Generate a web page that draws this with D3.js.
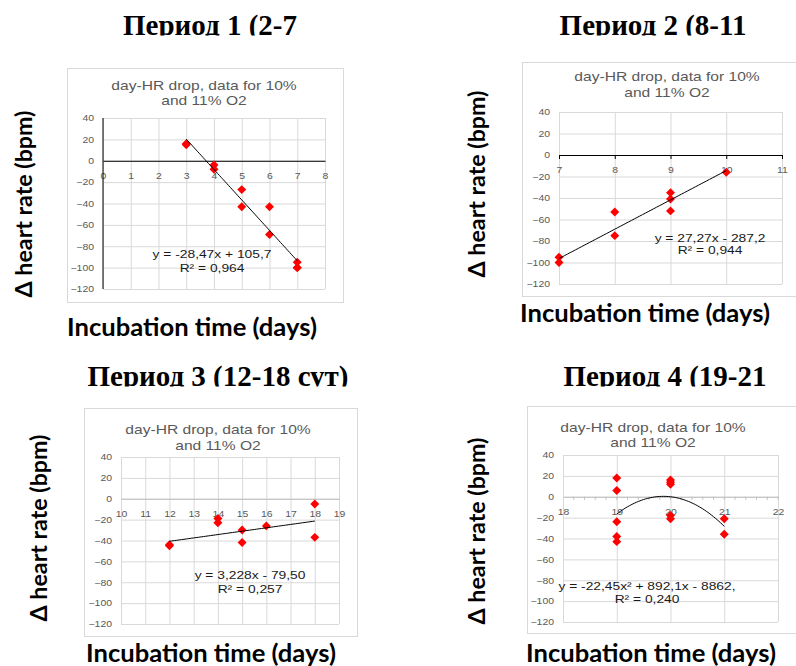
<!DOCTYPE html>
<html>
<head>
<meta charset="utf-8">
<script src="https://cdn.jsdelivr.net/npm/d3@7/dist/d3.min.js"></script>
<style>
  body { margin: 0; background: #fff; }
  svg { display: block; }
</style>
</head>
<body>
<svg id="chart" width="796" height="666"></svg>
<script>
// values
const p1Days = [3, 3, 4, 4, 5, 5, 6, 6, 7, 7, 7];
const p1Drop = [15, 16, -4, -8, -27, -43, -43, -69, -95, -100, -100];
const p1Coef = [105.7, -28.47];          // trendline: c0 + c1*x
const p1Eq = ["y = -28,47x + 105,7", "R² = 0,964"];

const p2Days = [7, 7, 8, 8, 9, 9, 9, 10];
const p2Drop = [-95, -100, -53, -75, -35, -41, -52, -16];
const p2Coef = [-287.2, 27.27];
const p2Eq = ["y = 27,27x - 287,2", "R² = 0,944"];

const p3Days = [12, 12, 14, 14, 15, 15, 16, 18, 18];
const p3Drop = [-44, -45, -19, -23, -30, -42, -26, -5, -37];
const p3Coef = [-79.5, 3.228];
const p3Eq = ["y = 3,228x - 79,50", "R² = 0,257"];

const p4Days = [19, 19, 19, 19, 19, 20, 20, 20, 20, 20, 21, 21];
const p4Drop = [18, 6, -24, -38, -43, 16, 14, 12, -18, -21, -21, -36];
const p4Coef = [-8862, 892.1, -22.45];   // polynomial, order 2
const p4Eq = ["y = -22,45x² + 892,1x - 8862,", "R² = 0,240"];

const yTicks = [-120, -100, -80, -60, -40, -20, 0, 20, 40];
const chartHead = ["day-HR drop, data for 10%", "and 11% O2"];
const yTitle = "Δ heart rate (bpm)";
const xTitle = "Incubation time (days)";

// layout of the four pasted excel charts
const panels = [
  { title: "Период 1 (2-7", titleX: 210, titleY: 35, box: [67, 68, 343, 302], plot: [103, 118, 325, 289],
    xDom: [0, 8], headX: 204, headY: [90, 105], yLab: [23, 204], xLab: [192, 336], eqX: 212, eqY: [258, 272],
    zero: "#000", yLine: true, major: false, minor: false, days: p1Days, drop: p1Drop, coef: p1Coef, eq: p1Eq },
  { title: "Период 2 (8-11", titleX: 653, titleY: 35, box: [522, 62, 800, 296], plot: [559, 112, 782, 284],
    xDom: [7, 11], headX: 667, headY: [81, 97], yLab: [476, 184], xLab: [645, 322], eqX: 710, eqY: [242, 254],
    zero: "#000", yLine: false, major: true, minor: false, days: p2Days, drop: p2Drop, coef: p2Coef, eq: p2Eq },
  { title: "Период 3 (12-18 сут)", titleX: 218, titleY: 386, box: [84, 408, 357, 636], plot: [121, 457, 339, 624],
    xDom: [10, 19], headX: 218, headY: [434, 450], yLab: [38, 528], xLab: [211, 662], eqX: 250, eqY: [579, 593],
    zero: "#bfbfbf", yLine: false, major: false, minor: false, days: p3Days, drop: p3Drop, coef: p3Coef, eq: p3Eq },
  { title: "Период 4 (19-21", titleX: 665, titleY: 386, box: [527, 406, 800, 633], plot: [563, 455, 778, 622],
    xDom: [18, 22], headX: 653, headY: [432, 447], yLab: [476, 531], xLab: [651, 662], eqX: 647, eqY: [590, 603],
    zero: "#bfbfbf", yLine: false, major: false, minor: true, days: p4Days, drop: p4Drop, coef: p4Coef, eq: p4Eq }
];

const svg = d3.select("#chart");
const sx = 1.2; // the excel pictures were pasted stretched sideways
const sans = "'Liberation Sans', Arial, sans-serif";
const bold = "Lato, 'Open Sans', sans-serif";
const intFmt = d3.format("d");

// shrink/grow a text so it is as long as the original
function fit(sel, len) {
  const fs = +sel.attr("font-size");
  const w = sel.node().getComputedTextLength();
  sel.attr("font-size", fs * len / w);
}

panels.forEach((p, i) => {
  const [bx0, by0, bx1, by1] = p.box;
  const [px0, py0, px1, py1] = p.plot;

  // big slide title, cut off at the bottom like in the source
  const clip = svg.append("clipPath").attr("id", "clip" + i);
  clip.append("rect").attr("x", p.titleX - 250).attr("y", p.titleY - 45)
    .attr("width", 500).attr("height", 45.5);
  svg.append("text")
    .attr("clip-path", `url(#clip${i})`)
    .attr("x", p.titleX).attr("y", p.titleY)
    .attr("text-anchor", "middle")
    .attr("font-family", "'Liberation Serif', 'Times New Roman', serif")
    .attr("font-weight", "bold")
    .attr("font-size", 29)
    .text(p.title);

  // chart area
  svg.append("rect")
    .attr("x", bx0 + 0.5).attr("y", by0 + 0.5)
    .attr("width", bx1 - bx0).attr("height", by1 - by0)
    .attr("fill", "#fff").attr("stroke", "#d9d9d9");

  const x = d3.scaleLinear().domain(p.xDom).range([px0, px1]);
  const y = d3.scaleLinear().domain([-120, 40]).range([py1, py0]);
  const xTicks = d3.range(p.xDom[0], p.xDom[1] + 1, 1);

  const g = svg.append("g");

  // vertical grid
  g.append("g")
    .attr("transform", `translate(0,${py0})`)
    .call(d3.axisBottom(x).tickValues(xTicks).tickSize(py1 - py0).tickFormat(""))
    .call(a => a.select(".domain").remove())
    .call(a => a.selectAll("line").attr("stroke", "#d9d9d9"));

  // horizontal grid + y labels
  g.append("g")
    .attr("transform", `translate(${px0},0)`)
    .call(d3.axisLeft(y).tickValues(yTicks).tickFormat(intFmt).tickSize(-(px1 - px0)).tickPadding(7.5))
    .call(a => a.select(".domain").remove())
    .call(a => a.selectAll("line").attr("stroke", "#d9d9d9"))
    .call(a => a.selectAll("text")
      .attr("transform", `scale(${sx},1)`)
      .attr("fill", "#595959")
      .attr("font-family", sans)
      .attr("font-size", 8.7));

  // zero line with x labels under it
  const xa = g.append("g")
    .attr("transform", `translate(0,${y(0)})`)
    .call(d3.axisBottom(x).tickValues(xTicks).tickFormat(intFmt)
      .tickSizeInner(p.major ? 4 : 0).tickSizeOuter(0).tickPadding(p.major ? 8.3 : 12.3))
    .call(a => a.select(".domain").attr("stroke", p.zero))
    .call(a => a.selectAll("line").attr("stroke", p.zero))
    .call(a => a.selectAll("text")
      .attr("transform", `scale(${sx},1)`)
      .attr("fill", "#595959")
      .attr("font-family", sans)
      .attr("font-size", 8.7));

  if (p.minor) {
    xa.append("g")
      .selectAll("line")
      .data(d3.range(p.xDom[0] + 0.2, p.xDom[1], 0.2))
      .join("line")
      .attr("x1", d => x(d)).attr("x2", d => x(d))
      .attr("y1", 0).attr("y2", 3)
      .attr("stroke", p.zero);
  }

  if (p.yLine) {
    g.append("line")
      .attr("x1", x(0)).attr("x2", x(0))
      .attr("y1", py0).attr("y2", py1)
      .attr("stroke", "#000");
  }

  // chart heading
  chartHead.forEach((t, k) => {
    svg.append("text")
      .attr("transform", `translate(${p.headX},${p.headY[k]}) scale(${sx},1)`)
      .attr("text-anchor", "middle")
      .attr("font-family", sans)
      .attr("font-size", 13)
      .attr("fill", "#595959")
      .text(t);
  });

  // points
  const pts = p.days.map((d, k) => [d, p.drop[k]]);
  g.append("g")
    .selectAll("path")
    .data(pts)
    .join("path")
    .attr("d", d3.symbol(d3.symbolSquare, 40))
    .attr("transform", d => `translate(${x(d[0])},${y(d[1])}) rotate(45)`)
    .attr("fill", "#ff0000");

  // trendline from the equation shown on the chart
  const fx = v => p.coef.reduce((s, c, k) => s + c * Math.pow(v, k), 0);
  const lo = d3.min(p.days), hi = d3.max(p.days);
  const xs = d3.range(lo, hi + 1e-9, (hi - lo) / 60);
  g.append("path")
    .datum(xs)
    .attr("d", d3.line().x(v => x(v)).y(v => y(fx(v))))
    .attr("fill", "none")
    .attr("stroke", "#000")
    .attr("stroke-width", 1);

  // equation labels
  p.eq.forEach((t, k) => {
    svg.append("text")
      .attr("transform", `translate(${p.eqX},${p.eqY[k]}) scale(${sx},1)`)
      .attr("text-anchor", "middle")
      .attr("font-family", sans)
      .attr("font-size", 11.5)
      .attr("fill", "#1a1a1a")
      .text(t);
  });

  // axis titles
  svg.append("text")
    .attr("transform", `translate(${p.yLab[0]},${p.yLab[1]}) rotate(-90)`)
    .attr("text-anchor", "middle")
    .attr("dominant-baseline", "central")
    .attr("font-family", bold)
    .attr("font-weight", "bold")
    .attr("font-size", 20)
    .text(yTitle)
    .call(fit, 187);

  svg.append("text")
    .attr("x", p.xLab[0]).attr("y", p.xLab[1])
    .attr("text-anchor", "middle")
    .attr("font-family", bold)
    .attr("font-weight", "bold")
    .attr("font-size", 20)
    .text(xTitle)
    .call(fit, 250);
});
</script>
</body>
</html>
